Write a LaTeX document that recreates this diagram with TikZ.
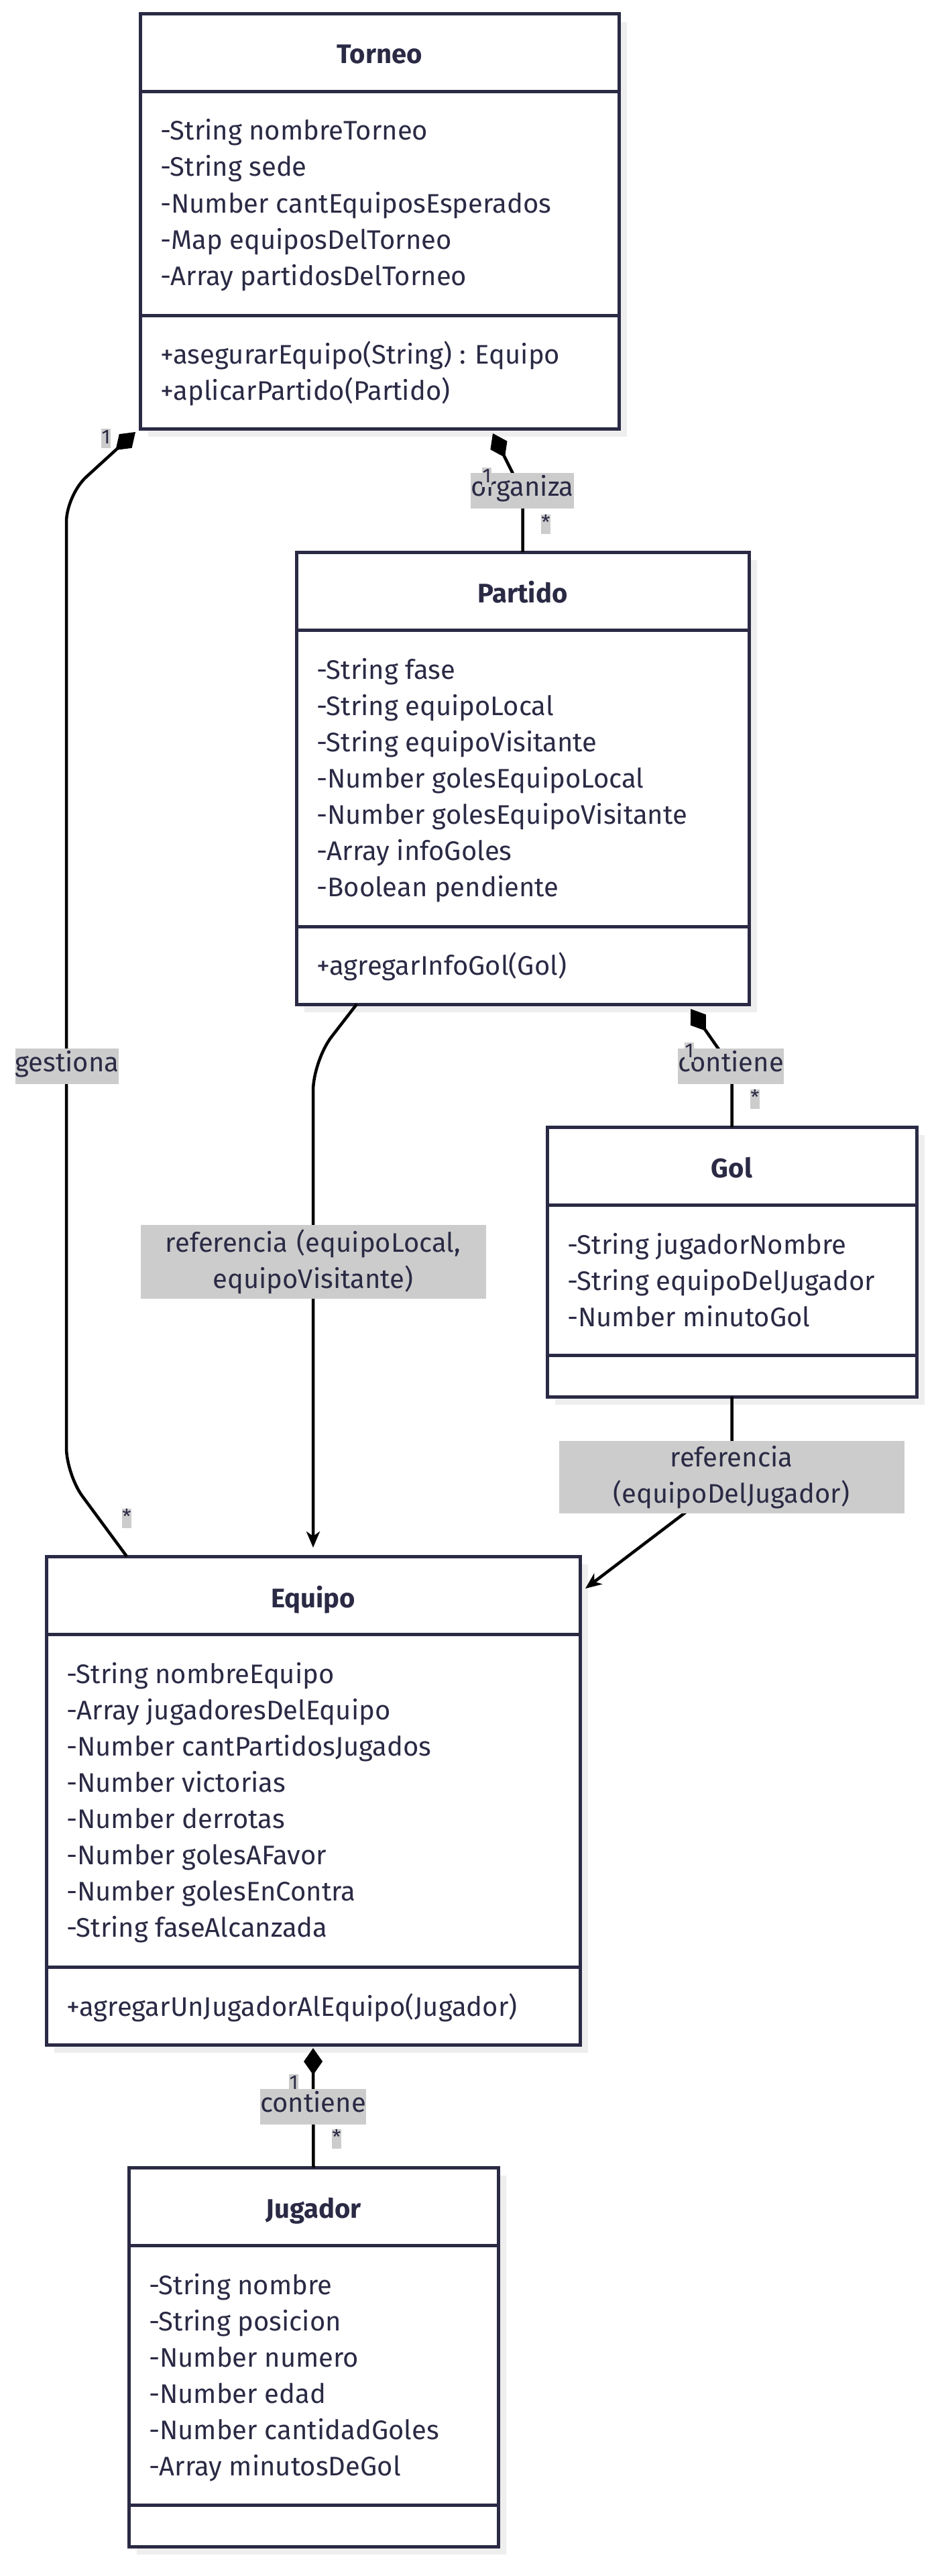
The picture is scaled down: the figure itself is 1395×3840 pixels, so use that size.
\documentclass[tikz,border=0pt]{standalone}
\usepackage{fontspec}
\setmainfont{Fira Sans}
\usetikzlibrary{arrows.meta,shadows}

\definecolor{ink}{HTML}{2A2A45}
\definecolor{shade}{HTML}{EEEEEE}
\definecolor{tag}{HTML}{CCCCCC}

\begin{document}
\begin{tikzpicture}[x=1pt, y=-1pt,
    classbox/.style={draw=ink, line width=5pt, fill=white, anchor=north west,
      inner sep=0pt, outer sep=0pt,
      drop shadow={shadow xshift=12pt, shadow yshift=-12pt, fill=shade, opacity=1}},
    sepline/.style={draw=ink, line width=5pt},
    classname/.style={anchor=base, inner sep=0pt, text=ink, font=\fontsize{40}{54}\selectfont\bfseries},
    attr/.style={anchor=base west, inner sep=0pt, text=ink, font=\fontsize{40}{54}\selectfont},
    link/.style={draw=black, line width=4.5pt},
    lbl/.style={fill=tag, text=ink, inner sep=0pt, text height=35pt, text depth=18pt,
      font=\fontsize{40}{54}\selectfont},
    wlbl/.style={fill=tag, text=ink, inner xsep=0pt, inner ysep=7pt, text width=515pt,
      align=center, font=\fontsize{40}{54}\selectfont},
    mult/.style={fill=tag, text=ink, inner sep=0.5pt, text height=22pt, text depth=6pt,
      font=\fontsize{30}{32}\selectfont}]

  \path[use as bounding box, fill=white] (0,0) rectangle (1395,3840);

  % Torneo
  \node[classbox, minimum width=714, minimum height=618] (torneo) at (209,21) {};
  \draw[sepline] (209,137) -- (923,137) (209,470) -- (923,470);
  \node[classname] (torneoN) at (566,95) {Torneo};
  \foreach \a [count=\i from 0] in {-String nombreTorneo, -String sede,
      -Number cantEquiposEsperados, -Map equiposDelTorneo, -Array partidosDelTorneo}{
    \pgfmathsetmacro{\y}{209+54*\i}
    \node[attr] (torneoA\i) at (239,\y) {\a};
  }
  \foreach \m [count=\i from 0] in {+asegurarEquipo(String) : Equipo, +aplicarPartido(Partido)}{
    \pgfmathsetmacro{\y}{542+54*\i}
    \node[attr] (torneoM\i) at (239,\y) {\m};
  }

  % Partido
  \node[classbox, minimum width=675, minimum height=674] (partido) at (442,823) {};
  \draw[sepline] (442,939) -- (1117,939) (442,1381) -- (1117,1381);
  \node[classname] (partidoN) at (779.5,898) {Partido};
  \foreach \a [count=\i from 0] in {-String fase, -String equipoLocal, -String equipoVisitante,
      -Number golesEquipoLocal, -Number golesEquipoVisitante, -Array infoGoles,
      -Boolean pendiente}{
    \pgfmathsetmacro{\y}{1012+54*\i}
    \node[attr] (partidoA\i) at (472,\y) {\a};
  }
  \node[attr] (partidoM0) at (472,1453) {+agregarInfoGol(Gol)};

  % Gol
  \node[classbox, minimum width=551, minimum height=402] (gol) at (816,1680) {};
  \draw[sepline] (816,1796) -- (1367,1796) (816,2020) -- (1367,2020);
  \node[classname] (golN) at (1091.5,1755) {Gol};
  \foreach \a [count=\i from 0] in {-String jugadorNombre, -String equipoDelJugador,
      -Number minutoGol}{
    \pgfmathsetmacro{\y}{1869+54*\i}
    \node[attr] (golA\i) at (846,\y) {\a};
  }

  % Equipo
  \node[classbox, minimum width=796, minimum height=728] (equipo) at (69,2320) {};
  \draw[sepline] (69,2436) -- (865,2436) (69,2932) -- (865,2932);
  \node[classname] (equipoN) at (467,2396) {Equipo};
  \foreach \a [count=\i from 0] in {-String nombreEquipo, -Array jugadoresDelEquipo,
      -Number cantPartidosJugados, -Number victorias, -Number derrotas,
      -Number golesAFavor, -Number golesEnContra, -String faseAlcanzada}{
    \pgfmathsetmacro{\y}{2509+54*\i}
    \node[attr] (equipoA\i) at (99,\y) {\a};
  }
  \node[attr] (equipoM0) at (99,3005) {+agregarUnJugadorAlEquipo(Jugador)};

  % Jugador
  \node[classbox, minimum width=551, minimum height=565] (jugador) at (192,3231) {};
  \draw[sepline] (192,3347) -- (743,3347) (192,3734) -- (743,3734);
  \node[classname] (jugadorN) at (467.5,3306) {Jugador};
  \foreach \a [count=\i from 0] in {-String nombre, -String posicion, -Number numero,
      -Number edad, -Number cantidadGoles, -Array minutosDeGol}{
    \pgfmathsetmacro{\y}{3420+54*\i}
    \node[attr] (jugadorA\i) at (222,\y) {\a};
  }

  % relations
  \draw[link, {Diamond[length=40pt,width=28pt]}-, rounded corners=40pt]
    ([xshift=-7pt,yshift=-5pt]torneo.south west) -- (99,738) -- (99,2198)
    -- ([xshift=120pt]equipo.north west);
  \draw[link, {Diamond[length=40pt,width=28pt]}-, rounded corners=20pt]
    ([xshift=169pt,yshift=-7pt]torneo.south) -- (779.5,735) -- (partido.north);
  \draw[link, {Diamond[length=40pt,width=28pt]}-, rounded corners=20pt]
    ([xshift=-87pt,yshift=-7pt]partido.south east) -- (1091.5,1592) -- (gol.north);
  \draw[link, -{Stealth[length=24pt,width=20pt,inset=7pt]}, rounded corners=45pt]
    ([xshift=90pt]partido.south west) -- (467,1581) -- ([yshift=13pt]equipo.north);
  \draw[link, -{Stealth[length=24pt,width=20pt,inset=7pt]}]
    (gol.south) -- (1091.5,2202) -- ([xshift=8pt,yshift=-48pt]equipo.north east);
  \draw[link, {Diamond[length=40pt,width=28pt]}-]
    ([yshift=-5pt]equipo.south) -- (jugador.north);

  \node[lbl] (gestiona) at (100,1589) {gestiona};
  \node[lbl] (organiza) at (779,731) {organiza};
  \node[lbl] (contieneGol) at (1090,1589) {contiene};
  \node[wlbl] (refLocal) at (467,1881) {referencia (equipoLocal,\\ equipoVisitante)};
  \node[wlbl] (refJugador) at (1091,2202) {referencia\\ (equipoDelJugador)};
  \node[lbl] (contieneJug) at (467,3140) {contiene};

  \node[mult] (m1) at (158,653) {1};
  \node[mult] (m2) at (189,2263) {*};
  \node[mult] (m3) at (726,711) {1};
  \node[mult] (m4) at (814,781) {*};
  \node[mult] (m5) at (1028,1568) {1};
  \node[mult] (m6) at (1126,1638) {*};
  \node[mult] (m7) at (438,3106) {1};
  \node[mult] (m8) at (502,3188) {*};
\end{tikzpicture}
\end{document}
